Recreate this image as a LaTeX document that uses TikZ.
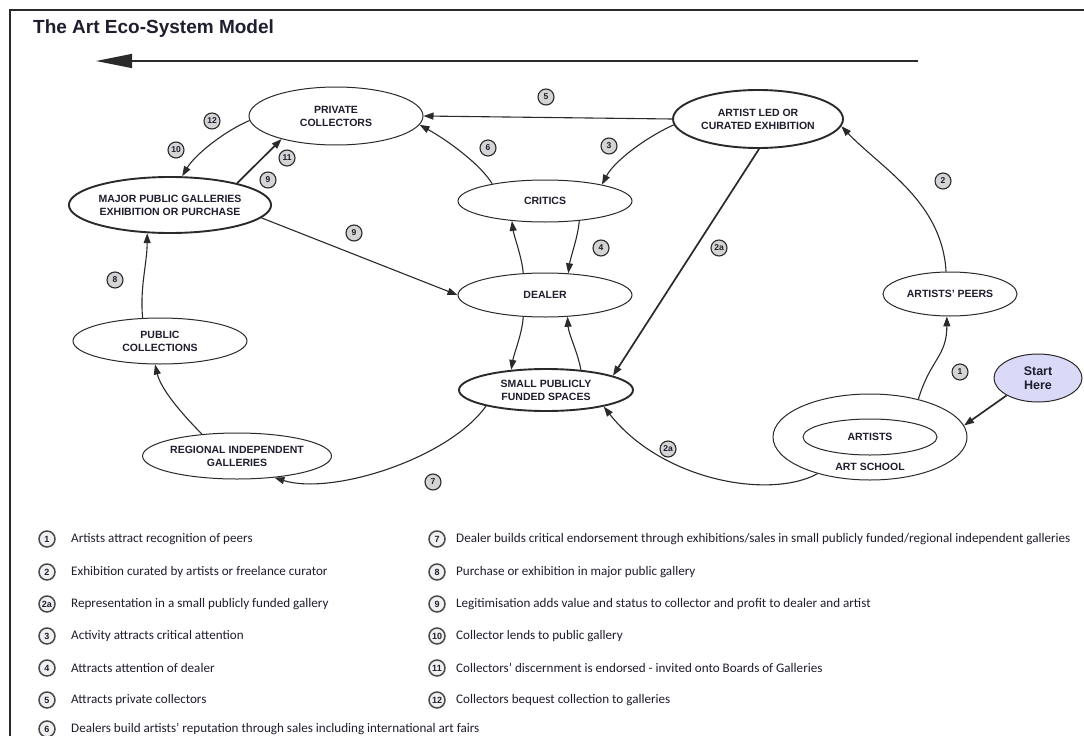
\documentclass[tikz,border=0pt]{standalone}
\usepackage{fontspec}
\setmainfont{Liberation Sans}
\newfontfamily\legendfont{Carlito}
\usetikzlibrary{shapes.geometric,arrows.meta}
\definecolor{linec}{HTML}{2A2A2A}
\definecolor{badgefill}{HTML}{D4D4D4}
\definecolor{startfill}{HTML}{DADAF8}
\definecolor{txt}{HTML}{1E1E2E}
\begin{document}
\begin{tikzpicture}[x=1pt,y=-1pt,
  lbl/.style={font=\bfseries\fontsize{10.5}{13}\selectfont, text=txt, align=center},
  el/.style={ellipse, draw=linec, line width=1pt, fill=white, inner sep=0pt, lbl},
  thickel/.style={el, line width=1.9pt},
  conn/.style={draw=linec, line width=1.1pt, -{Triangle[length=10pt,width=7pt]}},
  thickconn/.style={conn, line width=1.7pt},
  badge/.style={circle, draw=linec, fill=badgefill, line width=1.1pt, minimum size=16pt, inner sep=0pt, text=txt, font=\bfseries\fontsize{8.5}{8.5}\selectfont},
  lbadge/.style={circle, draw=linec!85, fill=gray!12, line width=1.5pt, minimum size=16pt, inner sep=0pt, text=txt, font=\bfseries\fontsize{9}{9}\selectfont},
  ltext/.style={anchor=west, font=\legendfont\fontsize{13.1}{13.1}\selectfont, inner sep=0pt, text=txt},
]
\fill[white] (0,0) rectangle (1084,736);
\useasboundingbox (0,0) rectangle (1084,736);
% frame
\draw[line width=2pt, linec] (9.5,736) -- (9.5,9.5) -- (1084,9.5);
\node[anchor=base west, font=\bfseries\fontsize{19}{19}\selectfont, inner sep=0pt, text=txt] (title) at (33,33) {The Art Eco-System Model};
% big arrow
\coordinate (arrS) at (918,61);
\coordinate (arrE) at (96,61);
\draw[line width=1.4pt, linec, -{Triangle[length=36pt,width=14pt]}] (arrS) -- (arrE);

% nodes
\node[el, minimum width=174pt, minimum height=58pt] (pc) at (336,116) {PRIVATE\\COLLECTORS};
\node[thickel, minimum width=170pt, minimum height=58pt] (ale) at (758,119) {ARTIST LED OR\\CURATED EXHIBITION};
\node[el, minimum width=174pt, minimum height=42pt] (cr) at (545,201) {CRITICS};
\node[thickel, minimum width=194pt, minimum height=56pt] (mpg) at (170,205) {MAJOR PUBLIC GALLERIES\\EXHIBITION OR PURCHASE};
\node[el, minimum width=174pt, minimum height=44pt] (de) at (545,295) {DEALER};
\node[el, minimum width=134pt, minimum height=44pt] (ap) at (950,294) {ARTISTS’ PEERS};
\node[el, minimum width=174pt, minimum height=46pt] (pub) at (160,341) {PUBLIC\\COLLECTIONS};
\node[thickel, minimum width=174pt, minimum height=42pt] (sp) at (546,390) {SMALL PUBLICLY\\FUNDED SPACES};
\node[el, minimum width=172pt, minimum height=46pt] (rig) at (237,456) {REGIONAL INDEPENDENT\\GALLERIES};
\node[el, minimum width=194pt, minimum height=86pt] (as) at (870,437) {};
\node[el, minimum width=134pt, minimum height=36pt] (ar) at (870,437) {ARTISTS};
\node[lbl, inner sep=0pt] (astxt) at (870,467) {ART SCHOOL};
\node[el, fill=startfill, minimum width=88pt, minimum height=48pt, font=\bfseries\fontsize{12.5}{14}\selectfont] (sh) at (1038,378) {Start\\Here};

% connectors
\draw[conn] (as.38) .. controls +(12,-40) and +(0,40) .. (ap.-98);
\draw[conn] (ap.100) .. controls +(-4,-70) and +(40,42) .. (ale.-5);
\draw[conn] (ale.-176) .. controls +(-29,13) and +(12,-23) .. (cr.16.5);
\draw[conn] (ale.west) -- (pc.east);
\draw[conn] (cr.162.5) .. controls +(-12,-20) and +(27,15) .. (pc.-6);
\draw[conn] (cr.-30) .. controls +(-1,15) and +(2,-15) .. (de.43);
\draw[conn] (de.135) .. controls +(-1,-15) and +(2,15) .. (cr.211);
\draw[conn] (de.225) .. controls +(-1,17) and +(3,-17) .. (sp.150);
\draw[conn] (sp.30) .. controls +(-3,-17) and +(1,17) .. (de.-44);
\draw[conn] (mpg.-8) -- (de.west);
\draw[thickconn] (mpg.18) -- (pc.203);
\draw[conn] (pc.183) .. controls +(-24,10) and +(13,-22) .. (mpg.67);
\draw[conn] (pub.127) .. controls +(-3,-30) and +(0,30) .. (mpg.231);
\draw[conn] (rig.148) .. controls +(-20,-20) and +(6,25) .. (pub.258);
\draw[conn] (sp.195) .. controls +(-38,53) and +(57,18) .. (rig.-30);
\draw[conn] (as.215) .. controls +(-48,26) and +(58,74) .. (sp.-16);
\draw[thickconn] (ale.-88) -- (sp.12);
\draw[thickconn] (sh.209) -- (as.7.5);

% badges
\node[badge] (b5) at (546,97) {5};
\node[badge] (b12) at (212,121) {12};
\node[badge] (b10) at (176,150) {10};
\node[badge] (b11) at (287,158) {11};
\node[badge] (b9a) at (268,180) {9};
\node[badge] (b6) at (488,148) {6};
\node[badge] (b3) at (609,146) {3};
\node[badge] (b2) at (943,181) {2};
\node[badge] (b9b) at (354,233) {9};
\node[badge] (b4) at (601,248) {4};
\node[badge] (b2au) at (719,248) {2a};
\node[badge] (b8) at (115,280) {8};
\node[badge] (b1) at (960,372) {1};
\node[badge] (b2al) at (668,449) {2a};
\node[badge] (b7) at (433,482) {7};

% legend left
\node[lbadge] (lb1) at (47,539) {1};
\node[ltext] (lt1) at (71,539) {Artists attract recognition of peers};
\node[lbadge] (lb2) at (47,572) {2};
\node[ltext] (lt2) at (71,572) {Exhibition curated by artists or freelance curator};
\node[lbadge] (lb2a) at (47,604) {2a};
\node[ltext] (lt2a) at (71,604) {Representation in a small publicly funded gallery};
\node[lbadge] (lb3) at (47,636) {3};
\node[ltext] (lt3) at (71,636) {Activity attracts critical attention};
\node[lbadge] (lb4) at (47,668) {4};
\node[ltext] (lt4) at (71,668) {Attracts attention of dealer};
\node[lbadge] (lb5) at (47,700) {5};
\node[ltext] (lt5) at (71,700) {Attracts private collectors};
\node[lbadge] (lb6) at (47,729) {6};
\node[ltext] (lt6) at (71,729) {Dealers build artists’ reputation through sales including international art fairs};
% legend right
\node[lbadge] (lb7) at (437,539) {7};
\node[ltext] (lt7) at (456,539) {Dealer builds critical endorsement through exhibitions/sales in small publicly funded/regional independent galleries};
\node[lbadge] (lb8) at (437,572) {8};
\node[ltext] (lt8) at (456,572) {Purchase or exhibition in major public gallery};
\node[lbadge] (lb9) at (437,604) {9};
\node[ltext] (lt9) at (456,604) {Legitimisation adds value and status to collector and profit to dealer and artist};
\node[lbadge] (lb10) at (437,636) {10};
\node[ltext] (lt10) at (456,636) {Collector lends to public gallery};
\node[lbadge] (lb11) at (437,668) {11};
\node[ltext] (lt11) at (456,668) {Collectors’ discernment is endorsed - invited onto Boards of Galleries};
\node[lbadge] (lb12) at (437,700) {12};
\node[ltext] (lt12) at (456,700) {Collectors bequest collection to galleries};
\end{tikzpicture}
\end{document}
